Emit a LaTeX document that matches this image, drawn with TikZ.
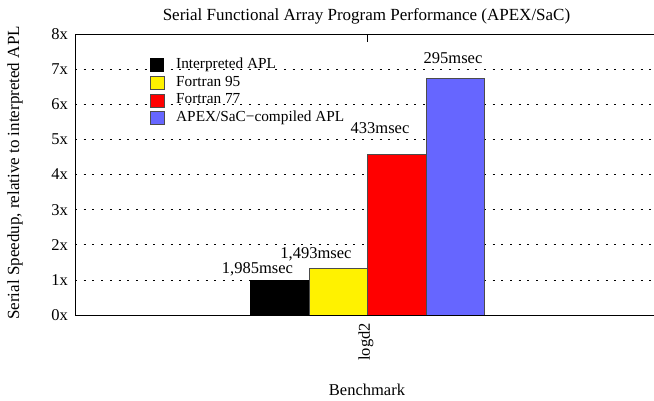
\documentclass[tikz,border=0pt]{standalone}
\usepackage{fontspec}
\setmainfont{Liberation Serif}
\begin{document}
\begin{tikzpicture}[x=1pt,y=-1pt,
  lab/.style={inner sep=0pt,font=\fontsize{16.5}{19}\selectfont},
  big/.style={inner sep=0pt,font=\fontsize{17}{19}\selectfont},
  leg/.style={inner sep=0pt,font=\fontsize{15.3}{18}\selectfont,anchor=base west},
  grid/.style={black,line width=0.6pt,dash pattern=on 2pt off 6.7pt},
  bar/.style={draw=black!70,line width=0.8pt},
  legbox/.style={draw=black!70,line width=0.8pt}]
\definecolor{barblue}{RGB}{102,102,255}
\useasboundingbox (0,0) rectangle (654,400);
% grid
\foreach \v in {1,...,7}{
  \draw[grid] (75,{315-35.125*\v}) -- (654,{315-35.125*\v});
}
% frame
\draw[black,line width=0.9pt] (654,34) -- (75,34) -- (75,315) -- (654,315);
\draw[black,line width=0.8pt] (367,34) -- (367,42);
% tick labels
\foreach \v in {0,...,8}{
  \node[lab,anchor=east] (t\v) at (68,{315-35.125*\v}) {\v x};
}
% bars
\fill[black] (250,315) rectangle (309,{315-35.125*1.0});
\draw[bar,fill=yellow] (309,315) rectangle (367,{315-35.125*1.3295});
\draw[bar,fill=red] (367,315) rectangle (426,{315-35.125*4.584});
\draw[bar,fill=barblue] (426,315) rectangle (484,{315-35.125*6.729});
\draw[black,line width=0.9pt] (250,315) -- (654,315);
% bar labels
\node[lab,anchor=base] (l1) at (257.5,273) {1,985msec};
\node[lab,anchor=base] (l2) at (316,258) {1,493msec};
\node[lab,anchor=base] (l3) at (380,133) {433msec};
\node[lab,anchor=base] (l4) at (453,63) {295msec};
% legend
\fill[black] (150,58) rectangle (164,72);
\draw[legbox,fill=yellow] (150,76) rectangle (164,89);
\draw[legbox,fill=red] (150,94) rectangle (164,107);
\draw[legbox,fill=barblue] (150,111) rectangle (164,124);
\node[leg] (g1) at (176,68.5) {Interpreted APL};
\node[leg] (g2) at (176,86) {Fortran 95};
\node[leg] (g3) at (176,103.5) {Fortran 77};
\node[leg] (g4) at (176,121) {APEX/SaC{\char"2212}compiled APL};
% titles
\node[big,anchor=base] (title) at (366.5,20) {Serial Functional Array Program Performance (APEX/SaC)};
\node[big,rotate=90] (ylab) at (15,173) {Serial Speedup, relative to interpreted APL};
\node[lab,anchor=base] (xlab) at (367,395) {Benchmark};
\node[lab,rotate=90,anchor=east] (xt) at (366,323) {logd2};
\end{tikzpicture}
\end{document}
